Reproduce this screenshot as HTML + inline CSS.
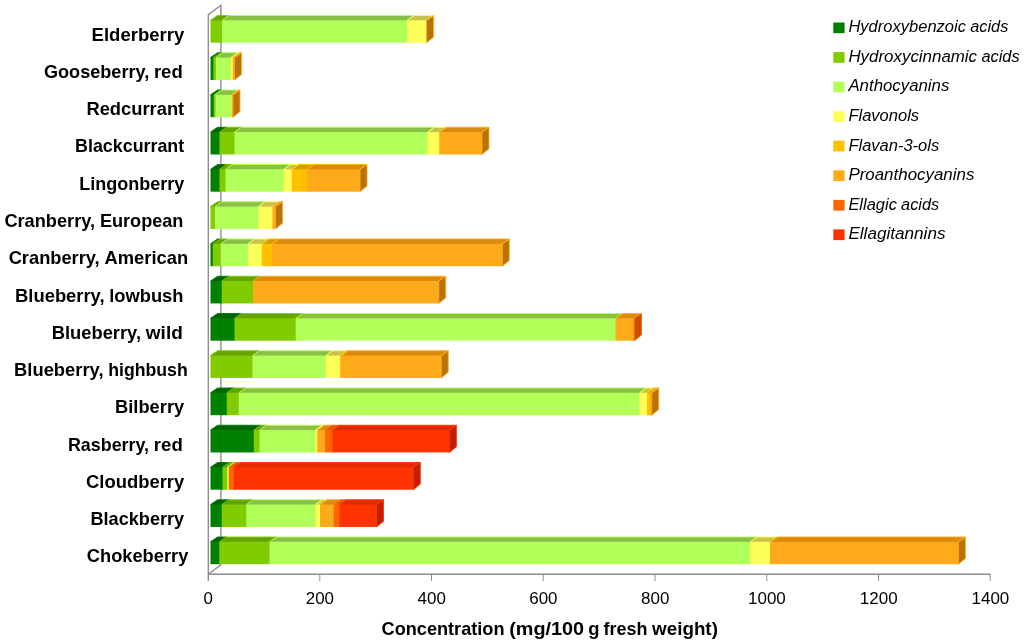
<!DOCTYPE html>
<html lang="en"><head><meta charset="utf-8"><title>Phenolic compounds in berries</title>
<style>html,body{margin:0;padding:0;background:#fff}body{width:1024px;height:644px;overflow:hidden}svg{display:block}</style>
</head><body>
<svg width="1024" height="644" viewBox="0 0 1024 644">
<rect width="1024" height="644" fill="#fff"/>
<g fill="none" stroke="#8e8e8e" stroke-width="1.4">
<path d="M208.3 581.0V14.7L220.9 5.3V564.8L208.3 574.2"/>
<path d="M208.3 574.2H990.3"/>
</g>
<g fill="none" stroke="#8e8e8e" stroke-width="1">
<path d="M319.8 574.2v6.8"/>
<path d="M431.5 574.2v6.8"/>
<path d="M543.2 574.2v6.8"/>
<path d="M655.0 574.2v6.8"/>
<path d="M766.8 574.2v6.8"/>
<path d="M878.5 574.2v6.8"/>
<path d="M990.2 574.2v6.8"/>
</g>
<g><path d="M426.00 20.30L433.60 15.50V37.00L426.60 42.70H426.00Z" fill="#b8720c"/><path d="M210.50 20.90V20.30L217.50 15.50H230.10L223.10 20.30V20.90Z" fill="#66a300"/><path d="M222.10 20.90V20.30L229.10 15.50H415.00L408.00 20.30V20.90Z" fill="#8abf45"/><path d="M407.00 20.90V20.30L414.00 15.50H433.60L426.60 20.30V20.90Z" fill="#c8c24a"/><path d="M426.25 20.90V20.30L433.25 15.50H433.60L426.60 20.30V20.90Z" fill="#dc8a0c"/><rect x="210.50" y="20.30" width="12.60" height="22.4" fill="#80cc00"/><rect x="222.10" y="20.30" width="185.90" height="22.4" fill="#b3ff59"/><rect x="407.00" y="20.30" width="19.60" height="22.4" fill="#ffff59"/><rect x="426.25" y="20.30" width="0.35" height="22.4" fill="#ffaa1a"/><path d="M210.50 20.30L217.50 15.50H229.10L222.10 20.30" fill="none" stroke-linejoin="round" stroke="#80cc00" stroke-width="1.0" stroke-opacity="0.9"/><path d="M222.10 20.30L229.10 15.50H414.00L407.00 20.30" fill="none" stroke-linejoin="round" stroke="#b3ff59" stroke-width="1.0" stroke-opacity="0.9"/><path d="M407.00 20.30L414.00 15.50H433.25L426.25 20.30" fill="none" stroke-linejoin="round" stroke="#ffff59" stroke-width="1.0" stroke-opacity="0.9"/><path d="M426.60 20.30L433.60 15.50V37.00L426.60 42.70Z" fill="none" stroke-linejoin="round" stroke="#ffaa1a" stroke-width="1.0" stroke-opacity="0.9"/></g>
<g><path d="M234.00 57.55L241.60 52.75V74.25L234.60 79.95H234.00Z" fill="#b8720c"/><path d="M210.50 58.15V57.55L217.50 52.75H221.40L214.40 57.55V58.15Z" fill="#006400"/><path d="M213.40 58.15V57.55L220.40 52.75H223.90L216.90 57.55V58.15Z" fill="#66a300"/><path d="M215.90 58.15V57.55L222.90 52.75H238.90L231.90 57.55V58.15Z" fill="#8abf45"/><path d="M230.90 58.15V57.55L237.90 52.75H240.75L233.75 57.55V58.15Z" fill="#c8c24a"/><path d="M232.75 58.15V57.55L239.75 52.75H241.60L234.60 57.55V58.15Z" fill="#dc8a0c"/><rect x="210.50" y="57.55" width="3.90" height="22.4" fill="#008000"/><rect x="213.40" y="57.55" width="3.50" height="22.4" fill="#80cc00"/><rect x="215.90" y="57.55" width="16.00" height="22.4" fill="#b3ff59"/><rect x="230.90" y="57.55" width="2.85" height="22.4" fill="#ffff59"/><rect x="232.75" y="57.55" width="1.85" height="22.4" fill="#ffaa1a"/><path d="M210.50 57.55L217.50 52.75H220.40L213.40 57.55" fill="none" stroke-linejoin="round" stroke="#008000" stroke-width="1.0" stroke-opacity="0.9"/><path d="M213.40 57.55L220.40 52.75H222.90L215.90 57.55" fill="none" stroke-linejoin="round" stroke="#80cc00" stroke-width="1.0" stroke-opacity="0.9"/><path d="M215.90 57.55L222.90 52.75H237.90L230.90 57.55" fill="none" stroke-linejoin="round" stroke="#b3ff59" stroke-width="1.0" stroke-opacity="0.9"/><path d="M230.90 57.55L237.90 52.75H239.75L232.75 57.55" fill="none" stroke-linejoin="round" stroke="#ffff59" stroke-width="1.0" stroke-opacity="0.9"/><path d="M232.75 57.55L239.75 52.75H241.60L234.60 57.55" fill="none" stroke-linejoin="round" stroke="#ffaa1a" stroke-width="1.0" stroke-opacity="0.9"/><path d="M234.60 57.55L241.60 52.75V74.25L234.60 79.95Z" fill="none" stroke-linejoin="round" stroke="#ffaa1a" stroke-width="1.0" stroke-opacity="0.9"/></g>
<g><path d="M232.40 94.80L240.00 90.00V111.50L233.00 117.20H232.40Z" fill="#b8720c"/><path d="M210.50 95.40V94.80L217.50 90.00H221.70L214.70 94.80V95.40Z" fill="#006400"/><path d="M213.70 95.40V94.80L220.70 90.00H223.50L216.50 94.80V95.40Z" fill="#66a300"/><path d="M215.50 95.40V94.80L222.50 90.00H239.20L232.20 94.80V95.40Z" fill="#8abf45"/><path d="M231.20 95.40V94.80L238.20 90.00H239.60L232.60 94.80V95.40Z" fill="#c8c24a"/><path d="M231.60 95.40V94.80L238.60 90.00H240.00L233.00 94.80V95.40Z" fill="#dc8a0c"/><rect x="210.50" y="94.80" width="4.20" height="22.4" fill="#008000"/><rect x="213.70" y="94.80" width="2.80" height="22.4" fill="#80cc00"/><rect x="215.50" y="94.80" width="16.70" height="22.4" fill="#b3ff59"/><rect x="231.20" y="94.80" width="1.40" height="22.4" fill="#ffff59"/><rect x="231.60" y="94.80" width="1.40" height="22.4" fill="#ffaa1a"/><path d="M210.50 94.80L217.50 90.00H220.70L213.70 94.80" fill="none" stroke-linejoin="round" stroke="#008000" stroke-width="1.0" stroke-opacity="0.9"/><path d="M213.70 94.80L220.70 90.00H222.50L215.50 94.80" fill="none" stroke-linejoin="round" stroke="#80cc00" stroke-width="1.0" stroke-opacity="0.9"/><path d="M215.50 94.80L222.50 90.00H238.20L231.20 94.80" fill="none" stroke-linejoin="round" stroke="#b3ff59" stroke-width="1.0" stroke-opacity="0.9"/><path d="M231.60 94.80L238.60 90.00H240.00L233.00 94.80" fill="none" stroke-linejoin="round" stroke="#ffaa1a" stroke-width="1.0" stroke-opacity="0.9"/><path d="M233.00 94.80L240.00 90.00V111.50L233.00 117.20Z" fill="none" stroke-linejoin="round" stroke="#ffaa1a" stroke-width="1.0" stroke-opacity="0.9"/></g>
<g><path d="M481.40 132.05L489.00 127.25V148.75L482.00 154.45H481.40Z" fill="#b8720c"/><path d="M210.50 132.65V132.05L217.50 127.25H227.50L220.50 132.05V132.65Z" fill="#006400"/><path d="M219.50 132.65V132.05L226.50 127.25H242.50L235.50 132.05V132.65Z" fill="#66a300"/><path d="M234.50 132.65V132.05L241.50 127.25H435.50L428.50 132.05V132.65Z" fill="#8abf45"/><path d="M427.50 132.65V132.05L434.50 127.25H447.25L440.25 132.05V132.65Z" fill="#c8c24a"/><path d="M439.25 132.65V132.05L446.25 127.25H489.00L482.00 132.05V132.65Z" fill="#dc8a0c"/><rect x="210.50" y="132.05" width="10.00" height="22.4" fill="#008000"/><rect x="219.50" y="132.05" width="16.00" height="22.4" fill="#80cc00"/><rect x="234.50" y="132.05" width="194.00" height="22.4" fill="#b3ff59"/><rect x="427.50" y="132.05" width="12.75" height="22.4" fill="#ffff59"/><rect x="439.25" y="132.05" width="42.75" height="22.4" fill="#ffaa1a"/><path d="M210.50 132.05L217.50 127.25H226.50L219.50 132.05" fill="none" stroke-linejoin="round" stroke="#008000" stroke-width="1.0" stroke-opacity="0.9"/><path d="M219.50 132.05L226.50 127.25H241.50L234.50 132.05" fill="none" stroke-linejoin="round" stroke="#80cc00" stroke-width="1.0" stroke-opacity="0.9"/><path d="M234.50 132.05L241.50 127.25H434.50L427.50 132.05" fill="none" stroke-linejoin="round" stroke="#b3ff59" stroke-width="1.0" stroke-opacity="0.9"/><path d="M427.50 132.05L434.50 127.25H446.25L439.25 132.05" fill="none" stroke-linejoin="round" stroke="#ffff59" stroke-width="1.0" stroke-opacity="0.9"/><path d="M439.25 132.05L446.25 127.25H489.00L482.00 132.05" fill="none" stroke-linejoin="round" stroke="#ffaa1a" stroke-width="1.0" stroke-opacity="0.9"/><path d="M482.00 132.05L489.00 127.25V148.75L482.00 154.45Z" fill="none" stroke-linejoin="round" stroke="#ffaa1a" stroke-width="1.0" stroke-opacity="0.9"/></g>
<g><path d="M359.40 169.30L367.00 164.50V186.00L360.00 191.70H359.40Z" fill="#b8720c"/><path d="M210.50 169.90V169.30L217.50 164.50H227.50L220.50 169.30V169.90Z" fill="#006400"/><path d="M219.50 169.90V169.30L226.50 164.50H233.50L226.50 169.30V169.90Z" fill="#66a300"/><path d="M225.50 169.90V169.30L232.50 164.50H291.75L284.75 169.30V169.90Z" fill="#8abf45"/><path d="M283.75 169.90V169.30L290.75 164.50H299.75L292.75 169.30V169.90Z" fill="#c8c24a"/><path d="M291.75 169.90V169.30L298.75 164.50H314.75L307.75 169.30V169.90Z" fill="#d29e00"/><path d="M306.75 169.90V169.30L313.75 164.50H367.00L360.00 169.30V169.90Z" fill="#dc8a0c"/><rect x="210.50" y="169.30" width="10.00" height="22.4" fill="#008000"/><rect x="219.50" y="169.30" width="7.00" height="22.4" fill="#80cc00"/><rect x="225.50" y="169.30" width="59.25" height="22.4" fill="#b3ff59"/><rect x="283.75" y="169.30" width="9.00" height="22.4" fill="#ffff59"/><rect x="291.75" y="169.30" width="16.00" height="22.4" fill="#ffc000"/><rect x="306.75" y="169.30" width="53.25" height="22.4" fill="#ffaa1a"/><path d="M210.50 169.30L217.50 164.50H226.50L219.50 169.30" fill="none" stroke-linejoin="round" stroke="#008000" stroke-width="1.0" stroke-opacity="0.9"/><path d="M219.50 169.30L226.50 164.50H232.50L225.50 169.30" fill="none" stroke-linejoin="round" stroke="#80cc00" stroke-width="1.0" stroke-opacity="0.9"/><path d="M225.50 169.30L232.50 164.50H290.75L283.75 169.30" fill="none" stroke-linejoin="round" stroke="#b3ff59" stroke-width="1.0" stroke-opacity="0.9"/><path d="M283.75 169.30L290.75 164.50H298.75L291.75 169.30" fill="none" stroke-linejoin="round" stroke="#ffff59" stroke-width="1.0" stroke-opacity="0.9"/><path d="M291.75 169.30L298.75 164.50H313.75L306.75 169.30" fill="none" stroke-linejoin="round" stroke="#ffc000" stroke-width="1.0" stroke-opacity="0.9"/><path d="M306.75 169.30L313.75 164.50H367.00L360.00 169.30" fill="none" stroke-linejoin="round" stroke="#ffaa1a" stroke-width="1.0" stroke-opacity="0.9"/><path d="M360.00 169.30L367.00 164.50V186.00L360.00 191.70Z" fill="none" stroke-linejoin="round" stroke="#ffaa1a" stroke-width="1.0" stroke-opacity="0.9"/></g>
<g><path d="M274.90 206.55L282.50 201.75V223.25L275.50 228.95H274.90Z" fill="#b8720c"/><path d="M210.50 207.15V206.55L217.50 201.75H223.00L216.00 206.55V207.15Z" fill="#66a300"/><path d="M215.00 207.15V206.55L222.00 201.75H266.25L259.25 206.55V207.15Z" fill="#8abf45"/><path d="M258.25 207.15V206.55L265.25 201.75H280.50L273.50 206.55V207.15Z" fill="#c8c24a"/><path d="M272.50 207.15V206.55L279.50 201.75H282.50L275.50 206.55V207.15Z" fill="#dc8a0c"/><rect x="210.50" y="206.55" width="5.50" height="22.4" fill="#80cc00"/><rect x="215.00" y="206.55" width="44.25" height="22.4" fill="#b3ff59"/><rect x="258.25" y="206.55" width="15.25" height="22.4" fill="#ffff59"/><rect x="272.50" y="206.55" width="3.00" height="22.4" fill="#ffaa1a"/><path d="M210.50 206.55L217.50 201.75H222.00L215.00 206.55" fill="none" stroke-linejoin="round" stroke="#80cc00" stroke-width="1.0" stroke-opacity="0.9"/><path d="M215.00 206.55L222.00 201.75H265.25L258.25 206.55" fill="none" stroke-linejoin="round" stroke="#b3ff59" stroke-width="1.0" stroke-opacity="0.9"/><path d="M258.25 206.55L265.25 201.75H279.50L272.50 206.55" fill="none" stroke-linejoin="round" stroke="#ffff59" stroke-width="1.0" stroke-opacity="0.9"/><path d="M272.50 206.55L279.50 201.75H282.50L275.50 206.55" fill="none" stroke-linejoin="round" stroke="#ffaa1a" stroke-width="1.0" stroke-opacity="0.9"/><path d="M275.50 206.55L282.50 201.75V223.25L275.50 228.95Z" fill="none" stroke-linejoin="round" stroke="#ffaa1a" stroke-width="1.0" stroke-opacity="0.9"/></g>
<g><path d="M501.70 243.80L509.30 239.00V260.50L502.30 266.20H501.70Z" fill="#b8720c"/><path d="M210.50 244.40V243.80L217.50 239.00H220.80L213.80 243.80V244.40Z" fill="#006400"/><path d="M212.80 244.40V243.80L219.80 239.00H228.80L221.80 243.80V244.40Z" fill="#66a300"/><path d="M220.80 244.40V243.80L227.80 239.00H256.00L249.00 243.80V244.40Z" fill="#8abf45"/><path d="M248.00 244.40V243.80L255.00 239.00H269.75L262.75 243.80V244.40Z" fill="#c8c24a"/><path d="M261.75 244.40V243.80L268.75 239.00H280.00L273.00 243.80V244.40Z" fill="#d29e00"/><path d="M272.00 244.40V243.80L279.00 239.00H509.30L502.30 243.80V244.40Z" fill="#dc8a0c"/><rect x="210.50" y="243.80" width="3.30" height="22.4" fill="#008000"/><rect x="212.80" y="243.80" width="9.00" height="22.4" fill="#80cc00"/><rect x="220.80" y="243.80" width="28.20" height="22.4" fill="#b3ff59"/><rect x="248.00" y="243.80" width="14.75" height="22.4" fill="#ffff59"/><rect x="261.75" y="243.80" width="11.25" height="22.4" fill="#ffc000"/><rect x="272.00" y="243.80" width="230.30" height="22.4" fill="#ffaa1a"/><path d="M210.50 243.80L217.50 239.00H219.80L212.80 243.80" fill="none" stroke-linejoin="round" stroke="#008000" stroke-width="1.0" stroke-opacity="0.9"/><path d="M212.80 243.80L219.80 239.00H227.80L220.80 243.80" fill="none" stroke-linejoin="round" stroke="#80cc00" stroke-width="1.0" stroke-opacity="0.9"/><path d="M220.80 243.80L227.80 239.00H255.00L248.00 243.80" fill="none" stroke-linejoin="round" stroke="#b3ff59" stroke-width="1.0" stroke-opacity="0.9"/><path d="M248.00 243.80L255.00 239.00H268.75L261.75 243.80" fill="none" stroke-linejoin="round" stroke="#ffff59" stroke-width="1.0" stroke-opacity="0.9"/><path d="M261.75 243.80L268.75 239.00H279.00L272.00 243.80" fill="none" stroke-linejoin="round" stroke="#ffc000" stroke-width="1.0" stroke-opacity="0.9"/><path d="M272.00 243.80L279.00 239.00H509.30L502.30 243.80" fill="none" stroke-linejoin="round" stroke="#ffaa1a" stroke-width="1.0" stroke-opacity="0.9"/><path d="M502.30 243.80L509.30 239.00V260.50L502.30 266.20Z" fill="none" stroke-linejoin="round" stroke="#ffaa1a" stroke-width="1.0" stroke-opacity="0.9"/></g>
<g><path d="M438.15 281.05L445.75 276.25V297.75L438.75 303.45H438.15Z" fill="#b8720c"/><path d="M210.50 281.65V281.05L217.50 276.25H229.75L222.75 281.05V281.65Z" fill="#006400"/><path d="M221.75 281.65V281.05L228.75 276.25H261.00L254.00 281.05V281.65Z" fill="#66a300"/><path d="M253.00 281.65V281.05L260.00 276.25H445.75L438.75 281.05V281.65Z" fill="#dc8a0c"/><rect x="210.50" y="281.05" width="12.25" height="22.4" fill="#008000"/><rect x="221.75" y="281.05" width="32.25" height="22.4" fill="#80cc00"/><rect x="253.00" y="281.05" width="185.75" height="22.4" fill="#ffaa1a"/><path d="M210.50 281.05L217.50 276.25H228.75L221.75 281.05" fill="none" stroke-linejoin="round" stroke="#008000" stroke-width="1.0" stroke-opacity="0.9"/><path d="M221.75 281.05L228.75 276.25H260.00L253.00 281.05" fill="none" stroke-linejoin="round" stroke="#80cc00" stroke-width="1.0" stroke-opacity="0.9"/><path d="M253.00 281.05L260.00 276.25H445.75L438.75 281.05" fill="none" stroke-linejoin="round" stroke="#ffaa1a" stroke-width="1.0" stroke-opacity="0.9"/><path d="M438.75 281.05L445.75 276.25V297.75L438.75 303.45Z" fill="none" stroke-linejoin="round" stroke="#ffaa1a" stroke-width="1.0" stroke-opacity="0.9"/></g>
<g><path d="M633.90 318.30L641.50 313.50V335.00L634.50 340.70H633.90Z" fill="#cc4c00"/><path d="M210.50 318.90V318.30L217.50 313.50H242.50L235.50 318.30V318.90Z" fill="#006400"/><path d="M234.50 318.90V318.30L241.50 313.50H303.75L296.75 318.30V318.90Z" fill="#66a300"/><path d="M295.75 318.90V318.30L302.75 313.50H623.50L616.50 318.30V318.90Z" fill="#8abf45"/><path d="M615.50 318.90V318.30L622.50 313.50H641.50L634.50 318.30V318.90Z" fill="#dc8a0c"/><path d="M633.75 318.90V318.30L640.75 313.50H641.50L634.50 318.30V318.90Z" fill="#e05a00"/><rect x="210.50" y="318.30" width="25.00" height="22.4" fill="#008000"/><rect x="234.50" y="318.30" width="62.25" height="22.4" fill="#80cc00"/><rect x="295.75" y="318.30" width="320.75" height="22.4" fill="#b3ff59"/><rect x="615.50" y="318.30" width="19.00" height="22.4" fill="#ffaa1a"/><rect x="633.75" y="318.30" width="0.75" height="22.4" fill="#ff6600"/><path d="M210.50 318.30L217.50 313.50H241.50L234.50 318.30" fill="none" stroke-linejoin="round" stroke="#008000" stroke-width="1.0" stroke-opacity="0.9"/><path d="M234.50 318.30L241.50 313.50H302.75L295.75 318.30" fill="none" stroke-linejoin="round" stroke="#80cc00" stroke-width="1.0" stroke-opacity="0.9"/><path d="M295.75 318.30L302.75 313.50H622.50L615.50 318.30" fill="none" stroke-linejoin="round" stroke="#b3ff59" stroke-width="1.0" stroke-opacity="0.9"/><path d="M615.50 318.30L622.50 313.50H640.75L633.75 318.30" fill="none" stroke-linejoin="round" stroke="#ffaa1a" stroke-width="1.0" stroke-opacity="0.9"/><path d="M634.50 318.30L641.50 313.50V335.00L634.50 340.70Z" fill="none" stroke-linejoin="round" stroke="#ff6600" stroke-width="1.0" stroke-opacity="0.9"/></g>
<g><path d="M440.65 355.55L448.25 350.75V372.25L441.25 377.95H440.65Z" fill="#b8720c"/><path d="M210.50 356.15V355.55L217.50 350.75H260.50L253.50 355.55V356.15Z" fill="#66a300"/><path d="M252.50 356.15V355.55L259.50 350.75H333.75L326.75 355.55V356.15Z" fill="#8abf45"/><path d="M325.75 356.15V355.55L332.75 350.75H348.00L341.00 355.55V356.15Z" fill="#c8c24a"/><path d="M340.00 356.15V355.55L347.00 350.75H349.20L342.20 355.55V356.15Z" fill="#d29e00"/><path d="M341.20 356.15V355.55L348.20 350.75H448.25L441.25 355.55V356.15Z" fill="#dc8a0c"/><rect x="210.50" y="355.55" width="43.00" height="22.4" fill="#80cc00"/><rect x="252.50" y="355.55" width="74.25" height="22.4" fill="#b3ff59"/><rect x="325.75" y="355.55" width="15.25" height="22.4" fill="#ffff59"/><rect x="340.00" y="355.55" width="2.20" height="22.4" fill="#ffc000"/><rect x="341.20" y="355.55" width="100.05" height="22.4" fill="#ffaa1a"/><path d="M210.50 355.55L217.50 350.75H259.50L252.50 355.55" fill="none" stroke-linejoin="round" stroke="#80cc00" stroke-width="1.0" stroke-opacity="0.9"/><path d="M252.50 355.55L259.50 350.75H332.75L325.75 355.55" fill="none" stroke-linejoin="round" stroke="#b3ff59" stroke-width="1.0" stroke-opacity="0.9"/><path d="M325.75 355.55L332.75 350.75H347.00L340.00 355.55" fill="none" stroke-linejoin="round" stroke="#ffff59" stroke-width="1.0" stroke-opacity="0.9"/><path d="M340.00 355.55L347.00 350.75H348.20L341.20 355.55" fill="none" stroke-linejoin="round" stroke="#ffc000" stroke-width="1.0" stroke-opacity="0.9"/><path d="M341.20 355.55L348.20 350.75H448.25L441.25 355.55" fill="none" stroke-linejoin="round" stroke="#ffaa1a" stroke-width="1.0" stroke-opacity="0.9"/><path d="M441.25 355.55L448.25 350.75V372.25L441.25 377.95Z" fill="none" stroke-linejoin="round" stroke="#ffaa1a" stroke-width="1.0" stroke-opacity="0.9"/></g>
<g><path d="M651.15 392.80L658.75 388.00V409.50L651.75 415.20H651.15Z" fill="#b8720c"/><path d="M210.50 393.40V392.80L217.50 388.00H234.75L227.75 392.80V393.40Z" fill="#006400"/><path d="M226.75 393.40V392.80L233.75 388.00H246.75L239.75 392.80V393.40Z" fill="#66a300"/><path d="M238.75 393.40V392.80L245.75 388.00H647.50L640.50 392.80V393.40Z" fill="#8abf45"/><path d="M639.50 393.40V392.80L646.50 388.00H655.00L648.00 392.80V393.40Z" fill="#c8c24a"/><path d="M647.00 393.40V392.80L654.00 388.00H658.00L651.00 392.80V393.40Z" fill="#d29e00"/><path d="M650.00 393.40V392.80L657.00 388.00H658.75L651.75 392.80V393.40Z" fill="#dc8a0c"/><rect x="210.50" y="392.80" width="17.25" height="22.4" fill="#008000"/><rect x="226.75" y="392.80" width="13.00" height="22.4" fill="#80cc00"/><rect x="238.75" y="392.80" width="401.75" height="22.4" fill="#b3ff59"/><rect x="639.50" y="392.80" width="8.50" height="22.4" fill="#ffff59"/><rect x="647.00" y="392.80" width="4.00" height="22.4" fill="#ffc000"/><rect x="650.00" y="392.80" width="1.75" height="22.4" fill="#ffaa1a"/><path d="M210.50 392.80L217.50 388.00H233.75L226.75 392.80" fill="none" stroke-linejoin="round" stroke="#008000" stroke-width="1.0" stroke-opacity="0.9"/><path d="M226.75 392.80L233.75 388.00H245.75L238.75 392.80" fill="none" stroke-linejoin="round" stroke="#80cc00" stroke-width="1.0" stroke-opacity="0.9"/><path d="M238.75 392.80L245.75 388.00H646.50L639.50 392.80" fill="none" stroke-linejoin="round" stroke="#b3ff59" stroke-width="1.0" stroke-opacity="0.9"/><path d="M639.50 392.80L646.50 388.00H654.00L647.00 392.80" fill="none" stroke-linejoin="round" stroke="#ffff59" stroke-width="1.0" stroke-opacity="0.9"/><path d="M647.00 392.80L654.00 388.00H657.00L650.00 392.80" fill="none" stroke-linejoin="round" stroke="#ffc000" stroke-width="1.0" stroke-opacity="0.9"/><path d="M650.00 392.80L657.00 388.00H658.75L651.75 392.80" fill="none" stroke-linejoin="round" stroke="#ffaa1a" stroke-width="1.0" stroke-opacity="0.9"/><path d="M651.75 392.80L658.75 388.00V409.50L651.75 415.20Z" fill="none" stroke-linejoin="round" stroke="#ffaa1a" stroke-width="1.0" stroke-opacity="0.9"/></g>
<g><path d="M448.80 430.05L456.40 425.25V446.75L449.40 452.45H448.80Z" fill="#c21f00"/><path d="M210.50 430.65V430.05L217.50 425.25H261.75L254.75 430.05V430.65Z" fill="#006400"/><path d="M253.75 430.65V430.05L260.75 425.25H267.50L260.50 430.05V430.65Z" fill="#66a300"/><path d="M259.50 430.65V430.05L266.50 425.25H323.30L316.30 430.05V430.65Z" fill="#8abf45"/><path d="M315.30 430.65V430.05L322.30 425.25H325.20L318.20 430.05V430.65Z" fill="#c8c24a"/><path d="M317.20 430.65V430.05L324.20 425.25H333.00L326.00 430.05V430.65Z" fill="#dc8a0c"/><path d="M325.00 430.65V430.05L332.00 425.25H340.50L333.50 430.05V430.65Z" fill="#e05a00"/><path d="M332.50 430.65V430.05L339.50 425.25H456.40L449.40 430.05V430.65Z" fill="#e32b00"/><rect x="210.50" y="430.05" width="44.25" height="22.4" fill="#008000"/><rect x="253.75" y="430.05" width="6.75" height="22.4" fill="#80cc00"/><rect x="259.50" y="430.05" width="56.80" height="22.4" fill="#b3ff59"/><rect x="315.30" y="430.05" width="2.90" height="22.4" fill="#ffff59"/><rect x="317.20" y="430.05" width="8.80" height="22.4" fill="#ffaa1a"/><rect x="325.00" y="430.05" width="8.50" height="22.4" fill="#ff6600"/><rect x="332.50" y="430.05" width="116.90" height="22.4" fill="#ff3300"/><path d="M210.50 430.05L217.50 425.25H260.75L253.75 430.05" fill="none" stroke-linejoin="round" stroke="#008000" stroke-width="1.0" stroke-opacity="0.9"/><path d="M253.75 430.05L260.75 425.25H266.50L259.50 430.05" fill="none" stroke-linejoin="round" stroke="#80cc00" stroke-width="1.0" stroke-opacity="0.9"/><path d="M259.50 430.05L266.50 425.25H322.30L315.30 430.05" fill="none" stroke-linejoin="round" stroke="#b3ff59" stroke-width="1.0" stroke-opacity="0.9"/><path d="M315.30 430.05L322.30 425.25H324.20L317.20 430.05" fill="none" stroke-linejoin="round" stroke="#ffff59" stroke-width="1.0" stroke-opacity="0.9"/><path d="M317.20 430.05L324.20 425.25H332.00L325.00 430.05" fill="none" stroke-linejoin="round" stroke="#ffaa1a" stroke-width="1.0" stroke-opacity="0.9"/><path d="M325.00 430.05L332.00 425.25H339.50L332.50 430.05" fill="none" stroke-linejoin="round" stroke="#ff6600" stroke-width="1.0" stroke-opacity="0.9"/><path d="M332.50 430.05L339.50 425.25H456.40L449.40 430.05" fill="none" stroke-linejoin="round" stroke="#ff3300" stroke-width="1.0" stroke-opacity="0.9"/><path d="M449.40 430.05L456.40 425.25V446.75L449.40 452.45Z" fill="none" stroke-linejoin="round" stroke="#ff3300" stroke-width="1.0" stroke-opacity="0.9"/></g>
<g><path d="M412.70 467.30L420.30 462.50V484.00L413.30 489.70H412.70Z" fill="#c21f00"/><path d="M210.50 467.90V467.30L217.50 462.50H230.50L223.50 467.30V467.90Z" fill="#006400"/><path d="M222.50 467.90V467.30L229.50 462.50H235.00L228.00 467.30V467.90Z" fill="#66a300"/><path d="M227.00 467.90V467.30L234.00 462.50H236.00L229.00 467.30V467.90Z" fill="#8abf45"/><path d="M228.00 467.90V467.30L235.00 462.50H236.75L229.75 467.30V467.90Z" fill="#c8c24a"/><path d="M228.75 467.90V467.30L235.75 462.50H241.75L234.75 467.30V467.90Z" fill="#e05a00"/><path d="M233.75 467.90V467.30L240.75 462.50H420.30L413.30 467.30V467.90Z" fill="#e32b00"/><rect x="210.50" y="467.30" width="13.00" height="22.4" fill="#008000"/><rect x="222.50" y="467.30" width="5.50" height="22.4" fill="#80cc00"/><rect x="227.00" y="467.30" width="2.00" height="22.4" fill="#b3ff59"/><rect x="228.00" y="467.30" width="1.75" height="22.4" fill="#ffff59"/><rect x="228.75" y="467.30" width="6.00" height="22.4" fill="#ff6600"/><rect x="233.75" y="467.30" width="179.55" height="22.4" fill="#ff3300"/><path d="M210.50 467.30L217.50 462.50H229.50L222.50 467.30" fill="none" stroke-linejoin="round" stroke="#008000" stroke-width="1.0" stroke-opacity="0.9"/><path d="M222.50 467.30L229.50 462.50H234.00L227.00 467.30" fill="none" stroke-linejoin="round" stroke="#80cc00" stroke-width="1.0" stroke-opacity="0.9"/><path d="M227.00 467.30L234.00 462.50H235.00L228.00 467.30" fill="none" stroke-linejoin="round" stroke="#b3ff59" stroke-width="1.0" stroke-opacity="0.9"/><path d="M228.75 467.30L235.75 462.50H240.75L233.75 467.30" fill="none" stroke-linejoin="round" stroke="#ff6600" stroke-width="1.0" stroke-opacity="0.9"/><path d="M233.75 467.30L240.75 462.50H420.30L413.30 467.30" fill="none" stroke-linejoin="round" stroke="#ff3300" stroke-width="1.0" stroke-opacity="0.9"/><path d="M413.30 467.30L420.30 462.50V484.00L413.30 489.70Z" fill="none" stroke-linejoin="round" stroke="#ff3300" stroke-width="1.0" stroke-opacity="0.9"/></g>
<g><path d="M375.90 504.55L383.50 499.75V521.25L376.50 526.95H375.90Z" fill="#c21f00"/><path d="M210.50 505.15V504.55L217.50 499.75H229.75L222.75 504.55V505.15Z" fill="#006400"/><path d="M221.75 505.15V504.55L228.75 499.75H254.25L247.25 504.55V505.15Z" fill="#66a300"/><path d="M246.25 505.15V504.55L253.25 499.75H323.50L316.50 504.55V505.15Z" fill="#8abf45"/><path d="M315.50 505.15V504.55L322.50 499.75H328.00L321.00 504.55V505.15Z" fill="#c8c24a"/><path d="M320.00 505.15V504.55L327.00 499.75H341.75L334.75 504.55V505.15Z" fill="#dc8a0c"/><path d="M333.75 505.15V504.55L340.75 499.75H347.50L340.50 504.55V505.15Z" fill="#e05a00"/><path d="M339.50 505.15V504.55L346.50 499.75H383.50L376.50 504.55V505.15Z" fill="#e32b00"/><rect x="210.50" y="504.55" width="12.25" height="22.4" fill="#008000"/><rect x="221.75" y="504.55" width="25.50" height="22.4" fill="#80cc00"/><rect x="246.25" y="504.55" width="70.25" height="22.4" fill="#b3ff59"/><rect x="315.50" y="504.55" width="5.50" height="22.4" fill="#ffff59"/><rect x="320.00" y="504.55" width="14.75" height="22.4" fill="#ffaa1a"/><rect x="333.75" y="504.55" width="6.75" height="22.4" fill="#ff6600"/><rect x="339.50" y="504.55" width="37.00" height="22.4" fill="#ff3300"/><path d="M210.50 504.55L217.50 499.75H228.75L221.75 504.55" fill="none" stroke-linejoin="round" stroke="#008000" stroke-width="1.0" stroke-opacity="0.9"/><path d="M221.75 504.55L228.75 499.75H253.25L246.25 504.55" fill="none" stroke-linejoin="round" stroke="#80cc00" stroke-width="1.0" stroke-opacity="0.9"/><path d="M246.25 504.55L253.25 499.75H322.50L315.50 504.55" fill="none" stroke-linejoin="round" stroke="#b3ff59" stroke-width="1.0" stroke-opacity="0.9"/><path d="M315.50 504.55L322.50 499.75H327.00L320.00 504.55" fill="none" stroke-linejoin="round" stroke="#ffff59" stroke-width="1.0" stroke-opacity="0.9"/><path d="M320.00 504.55L327.00 499.75H340.75L333.75 504.55" fill="none" stroke-linejoin="round" stroke="#ffaa1a" stroke-width="1.0" stroke-opacity="0.9"/><path d="M333.75 504.55L340.75 499.75H346.50L339.50 504.55" fill="none" stroke-linejoin="round" stroke="#ff6600" stroke-width="1.0" stroke-opacity="0.9"/><path d="M339.50 504.55L346.50 499.75H383.50L376.50 504.55" fill="none" stroke-linejoin="round" stroke="#ff3300" stroke-width="1.0" stroke-opacity="0.9"/><path d="M376.50 504.55L383.50 499.75V521.25L376.50 526.95Z" fill="none" stroke-linejoin="round" stroke="#ff3300" stroke-width="1.0" stroke-opacity="0.9"/></g>
<g><path d="M957.80 541.80L965.40 537.00V558.50L958.40 564.20H957.80Z" fill="#b8720c"/><path d="M210.50 542.40V541.80L217.50 537.00H227.25L220.25 541.80V542.40Z" fill="#006400"/><path d="M219.25 542.40V541.80L226.25 537.00H277.50L270.50 541.80V542.40Z" fill="#66a300"/><path d="M269.50 542.40V541.80L276.50 537.00H758.10L751.10 541.80V542.40Z" fill="#8abf45"/><path d="M750.10 542.40V541.80L757.10 537.00H778.00L771.00 541.80V542.40Z" fill="#c8c24a"/><path d="M770.00 542.40V541.80L777.00 537.00H965.40L958.40 541.80V542.40Z" fill="#dc8a0c"/><rect x="210.50" y="541.80" width="9.75" height="22.4" fill="#008000"/><rect x="219.25" y="541.80" width="51.25" height="22.4" fill="#80cc00"/><rect x="269.50" y="541.80" width="481.60" height="22.4" fill="#b3ff59"/><rect x="750.10" y="541.80" width="20.90" height="22.4" fill="#ffff59"/><rect x="770.00" y="541.80" width="188.40" height="22.4" fill="#ffaa1a"/><path d="M210.50 541.80L217.50 537.00H226.25L219.25 541.80" fill="none" stroke-linejoin="round" stroke="#008000" stroke-width="1.0" stroke-opacity="0.9"/><path d="M219.25 541.80L226.25 537.00H276.50L269.50 541.80" fill="none" stroke-linejoin="round" stroke="#80cc00" stroke-width="1.0" stroke-opacity="0.9"/><path d="M269.50 541.80L276.50 537.00H757.10L750.10 541.80" fill="none" stroke-linejoin="round" stroke="#b3ff59" stroke-width="1.0" stroke-opacity="0.9"/><path d="M750.10 541.80L757.10 537.00H777.00L770.00 541.80" fill="none" stroke-linejoin="round" stroke="#ffff59" stroke-width="1.0" stroke-opacity="0.9"/><path d="M770.00 541.80L777.00 537.00H965.40L958.40 541.80" fill="none" stroke-linejoin="round" stroke="#ffaa1a" stroke-width="1.0" stroke-opacity="0.9"/><path d="M958.40 541.80L965.40 537.00V558.50L958.40 564.20Z" fill="none" stroke-linejoin="round" stroke="#ffaa1a" stroke-width="1.0" stroke-opacity="0.9"/></g>
<g font-family="'Liberation Sans', sans-serif" font-weight="bold" font-size="18.2" fill="#000">
<text x="91.6" y="40.5" textLength="92.7" lengthAdjust="spacingAndGlyphs">Elderberry</text>
<text x="44.0" y="77.8" textLength="105.2" lengthAdjust="spacingAndGlyphs">Gooseberry,</text><text x="153.9" y="77.8" textLength="28.9" lengthAdjust="spacingAndGlyphs">red</text>
<text x="86.4" y="115.1" textLength="97.8" lengthAdjust="spacingAndGlyphs">Redcurrant</text>
<text x="75.1" y="152.3" textLength="109.1" lengthAdjust="spacingAndGlyphs">Blackcurrant</text>
<text x="79.2" y="189.6" textLength="105.0" lengthAdjust="spacingAndGlyphs">Lingonberry</text>
<text x="4.4" y="226.9" textLength="90.7" lengthAdjust="spacingAndGlyphs">Cranberry,</text><text x="99.9" y="226.9" textLength="83.5" lengthAdjust="spacingAndGlyphs">European</text>
<text x="8.7" y="264.2" textLength="91.0" lengthAdjust="spacingAndGlyphs">Cranberry,</text><text x="104.5" y="264.2" textLength="83.6" lengthAdjust="spacingAndGlyphs">American</text>
<text x="15.1" y="301.5" textLength="89.5" lengthAdjust="spacingAndGlyphs">Blueberry,</text><text x="109.3" y="301.5" textLength="74.1" lengthAdjust="spacingAndGlyphs">lowbush</text>
<text x="51.8" y="338.7" textLength="89.2" lengthAdjust="spacingAndGlyphs">Blueberry,</text><text x="145.8" y="338.7" textLength="37.0" lengthAdjust="spacingAndGlyphs">wild</text>
<text x="14.1" y="376.0" textLength="89.4" lengthAdjust="spacingAndGlyphs">Blueberry,</text><text x="108.2" y="376.0" textLength="79.5" lengthAdjust="spacingAndGlyphs">highbush</text>
<text x="115.1" y="413.3" textLength="69.1" lengthAdjust="spacingAndGlyphs">Bilberry</text>
<text x="67.9" y="450.6" textLength="81.2" lengthAdjust="spacingAndGlyphs">Rasberry,</text><text x="153.8" y="450.6" textLength="29.0" lengthAdjust="spacingAndGlyphs">red</text>
<text x="86.0" y="487.9" textLength="98.2" lengthAdjust="spacingAndGlyphs">Cloudberry</text>
<text x="90.5" y="525.1" textLength="93.7" lengthAdjust="spacingAndGlyphs">Blackberry</text>
<text x="86.8" y="562.4" textLength="101.5" lengthAdjust="spacingAndGlyphs">Chokeberry</text>
</g>
<g font-family="'Liberation Sans', sans-serif" font-size="15.8" fill="#000" text-anchor="middle">
<text x="208.2" y="603.5" textLength="9.4" lengthAdjust="spacingAndGlyphs">0</text>
<text x="319.9" y="603.5" textLength="28.3" lengthAdjust="spacingAndGlyphs">200</text>
<text x="431.7" y="603.5" textLength="28.3" lengthAdjust="spacingAndGlyphs">400</text>
<text x="543.4" y="603.5" textLength="28.3" lengthAdjust="spacingAndGlyphs">600</text>
<text x="655.2" y="603.5" textLength="28.3" lengthAdjust="spacingAndGlyphs">800</text>
<text x="766.9" y="603.5" textLength="37.8" lengthAdjust="spacingAndGlyphs">1000</text>
<text x="878.7" y="603.5" textLength="37.8" lengthAdjust="spacingAndGlyphs">1200</text>
<text x="990.4" y="603.5" textLength="37.8" lengthAdjust="spacingAndGlyphs">1400</text>
</g>
<g font-family="'Liberation Sans', sans-serif" font-weight="bold" font-size="18.4" fill="#000">
<text x="381.6" y="635.0" textLength="122.9" lengthAdjust="spacingAndGlyphs">Concentration</text><text x="509.2" y="635.0" textLength="74.9" lengthAdjust="spacingAndGlyphs">(mg/100</text><text x="593.8" y="635.0" text-anchor="middle">g</text><text x="603.5" y="635.0" textLength="43.9" lengthAdjust="spacingAndGlyphs">fresh</text><text x="652.1" y="635.0" textLength="65.8" lengthAdjust="spacingAndGlyphs">weight)</text>
</g>
<g font-family="'Liberation Sans', sans-serif" font-style="italic" font-size="16.3" fill="#000">
<rect x="833.3" y="22.5" width="11.3" height="10.7" fill="#008000"/>
<text x="848.4" y="32.2" textLength="117.6" lengthAdjust="spacingAndGlyphs">Hydroxybenzoic</text><text x="970.2" y="32.2" textLength="38.2" lengthAdjust="spacingAndGlyphs">acids</text>
<rect x="833.3" y="52.1" width="11.3" height="10.7" fill="#80cc00"/>
<text x="848.4" y="61.8" textLength="128.7" lengthAdjust="spacingAndGlyphs">Hydroxycinnamic</text><text x="981.4" y="61.8" textLength="38.3" lengthAdjust="spacingAndGlyphs">acids</text>
<rect x="833.3" y="81.6" width="11.3" height="10.7" fill="#b3ff59"/>
<text x="848.4" y="91.4" textLength="101.0" lengthAdjust="spacingAndGlyphs">Anthocyanins</text>
<rect x="833.3" y="111.2" width="11.3" height="10.7" fill="#ffff59"/>
<text x="848.4" y="121.0" textLength="70.7" lengthAdjust="spacingAndGlyphs">Flavonols</text>
<rect x="833.3" y="140.7" width="11.3" height="10.7" fill="#ffc000"/>
<text x="848.4" y="150.6" textLength="90.8" lengthAdjust="spacingAndGlyphs">Flavan-3-ols</text>
<rect x="833.3" y="170.3" width="11.3" height="10.7" fill="#ffaa1a"/>
<text x="848.4" y="180.2" textLength="126.0" lengthAdjust="spacingAndGlyphs">Proanthocyanins</text>
<rect x="833.3" y="199.9" width="11.3" height="10.7" fill="#ff6600"/>
<text x="848.4" y="209.8" textLength="48.5" lengthAdjust="spacingAndGlyphs">Ellagic</text><text x="901.1" y="209.8" textLength="38.1" lengthAdjust="spacingAndGlyphs">acids</text>
<rect x="833.3" y="229.4" width="11.3" height="10.7" fill="#ff3300"/>
<text x="848.4" y="239.4" textLength="97.1" lengthAdjust="spacingAndGlyphs">Ellagitannins</text>
</g>
</svg>
</body></html>
